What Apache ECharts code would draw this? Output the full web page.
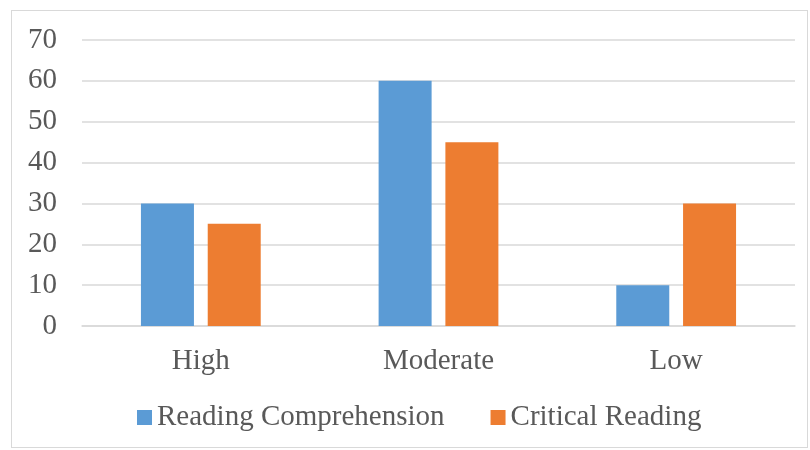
<!DOCTYPE html>
<html><head><meta charset="utf-8">
<script src="https://cdn.jsdelivr.net/npm/echarts@6/dist/echarts.min.js"></script>
<style>
html,body{margin:0;padding:0;background:#fff;}
#frame{position:absolute;left:11px;top:10px;width:797px;height:438px;border:1.5px solid #d9d9d9;box-sizing:border-box;}
#c{position:absolute;left:0;top:0;width:810px;height:450px;}
</style></head>
<body><div id="frame"></div><div id="c"></div>
<script>
const categories = ['High', 'Moderate', 'Low'];
const readingComprehension = [30, 60, 10];
const criticalReading = [25, 45, 30];
const yTicks = [0, 10, 20, 30, 40, 50, 60, 70];

const font = '"Liberation Serif", "Times New Roman", serif';
const chart = echarts.init(document.getElementById('c'), null, {renderer: 'canvas'});
chart.setOption({
  animation: false,
  backgroundColor: 'transparent',
  grid: {left: 82, right: 15, top: 40, bottom: 124, containLabel: false},
  legend: {
    top: 403, left: 137, padding: 0, itemWidth: 15, itemHeight: 15, itemGap: 46,
    icon: 'rect',
    textStyle: {fontFamily: font, fontSize: 29, color: '#595959'},
    data: ['Reading Comprehension', 'Critical Reading']
  },
  xAxis: {
    type: 'category', data: categories,
    axisLine: {show: true, lineStyle: {color: '#d9d9d9', width: 1.5}},
    axisTick: {show: false},
    axisLabel: {fontFamily: font, fontSize: 29, color: '#595959', margin: 21}
  },
  yAxis: {
    type: 'value', min: yTicks[0], max: yTicks[yTicks.length-1], interval: 10,
    axisLine: {show: false}, axisTick: {show: false},
    splitLine: {lineStyle: {color: '#d9d9d9', width: 1.5}},
    axisLabel: {fontFamily: font, fontSize: 29, color: '#595959', margin: 25}
  },
  series: [
    {name: 'Reading Comprehension', type: 'bar', data: readingComprehension,
     barWidth: '22.3%', barGap: '26%', itemStyle: {color: '#5B9BD5'}},
    {name: 'Critical Reading', type: 'bar', data: criticalReading,
     barWidth: '22.3%', barGap: '26%', itemStyle: {color: '#ED7D31'}}
  ]
});
</script></body></html>
